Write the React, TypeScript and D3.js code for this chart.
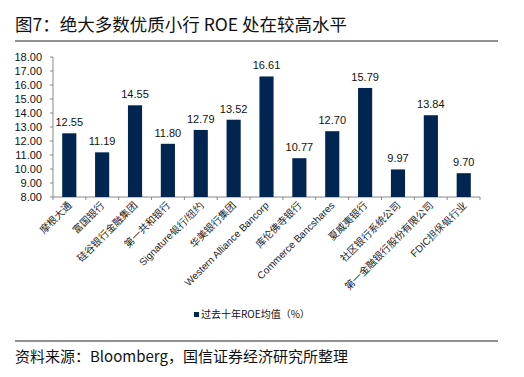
import React from "react";
import * as d3 from "d3";

const categories = [
  "摩根大通",
  "富国银行",
  "硅谷银行金融集团",
  "第一共和银行",
  "Signature银行/纽约",
  "华美银行集团",
  "Western Alliance Bancorp",
  "库伦佛寺银行",
  "Commerce Bancshares",
  "夏威夷银行",
  "社区银行系统公司",
  "第一金融银行股份有限公司",
  "FDIC担保银行业",
];
const values = [12.55, 11.19, 14.55, 11.8, 12.79, 13.52, 16.61, 10.77, 12.7, 15.79, 9.97, 13.84, 9.7];
const yTicks = [8, 9, 10, 11, 12, 13, 14, 15, 16, 17, 18];
const title = "图7：绝大多数优质小行 ROE 处在较高水平";
const legendLabel = "过去十年ROE均值（%）";
const source = "资料来源：Bloomberg，国信证券经济研究所整理";

export default function App() {
  const W = 524, H = 377;
  const left = 53, right = 480, top = 57, bottom = 197;
  const x = d3.scaleBand<string>().domain(categories).range([left, right]).paddingInner(0.57).paddingOuter(0.28);
  const y = d3.scaleLinear().domain([8, 18]).range([bottom, top]);
  const color = "#002550";
  const font = "'Liberation Sans', Arial, sans-serif";
  const cjk = "'Noto Sans CJK SC', sans-serif";
  const step = (right - left) / categories.length;
  return (
    <svg width={W} height={H} style={{ position: "absolute", left: 0, top: 0 }}>
      <rect width={W} height={H} fill="#fff" />
      <text x={15} y={31} fontFamily={cjk} fontSize={17.5} fill="#111">{title}</text>
      <line x1={15} x2={498} y1={41} y2={41} stroke="#222" strokeWidth={1} />
      {/* y axis */}
      <line x1={left} x2={left} y1={top} y2={bottom} stroke="#888" />
      {yTicks.map((t) => (
        <g key={t}>
          <line x1={left - 3} x2={left} y1={y(t)} y2={y(t)} stroke="#888" />
          <text x={42} y={y(t) + 4} textAnchor="end" fontFamily={font} fontSize={11} fill="#111">
            {t.toFixed(2)}
          </text>
        </g>
      ))}
      {/* x axis */}
      <line x1={left} x2={right} y1={bottom} y2={bottom} stroke="#888" />
      {categories.map((c, i) => (
        <line key={c} x1={left + step * i} x2={left + step * i} y1={bottom} y2={bottom + 3} stroke="#888" />
      ))}
      <line x1={right} x2={right} y1={bottom} y2={bottom + 3} stroke="#888" />
      {categories.map((c, i) => {
        const bx = x(c)!;
        const bw = x.bandwidth();
        const cx = bx + bw / 2;
        return (
          <g key={c}>
            <rect x={bx} y={y(values[i])} width={bw} height={bottom - y(values[i])} fill={color} />
            <text x={cx} y={y(values[i]) - 7} textAnchor="middle" fontFamily={font} fontSize={11} fill="#111">
              {values[i].toFixed(2)}
            </text>
            <text
              transform={`translate(${cx + 3},${206}) rotate(-45)`}
              textAnchor="end"
              fontFamily={/[A-Za-z]/.test(c[0]) ? font : cjk}
              fontSize={10}
              fill="#222"
            >
              {c}
            </text>
          </g>
        );
      })}
      {/* legend */}
      <rect x={194} y={312} width={5} height={5} fill={color} />
      <text x={201} y={318} fontFamily={cjk} fontSize={10} fill="#111">{legendLabel}</text>
      <line x1={15} x2={498} y1={341} y2={341} stroke="#222" strokeWidth={1} />
      <text x={15} y={362} fontFamily={cjk} fontSize={15} fill="#111">{source}</text>
    </svg>
  );
}
